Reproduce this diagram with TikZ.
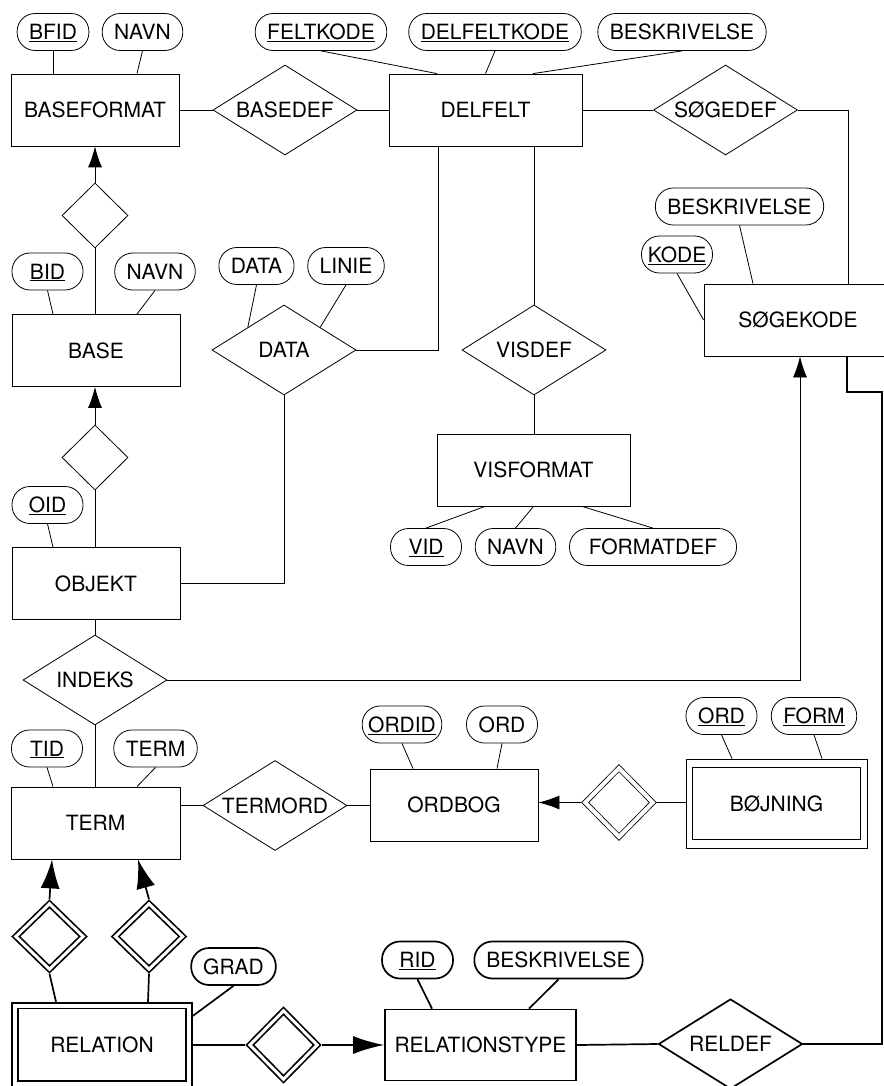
\documentclass[tikz,border=0pt]{standalone}
\usepackage{fontspec}
\setmainfont{TeX Gyre Heros}
\usepackage{tikz}
\usetikzlibrary{shapes.geometric,arrows.meta}

\begin{document}
\begin{tikzpicture}[x=1pt, y=-1pt, line width=0.8pt,
        every node/.style={font=\fontsize{21pt}{25pt}\selectfont, text height=15pt, text depth=0pt},
        entity/.style={draw, rectangle, minimum width=168pt, minimum height=72pt, inner sep=0pt},
        attr/.style={draw, rectangle, rounded corners=18pt, minimum width=71pt, minimum height=37pt, inner xsep=12pt, inner ysep=0pt},
        rel/.style={draw, diamond, aspect=1.6, minimum width=144pt, minimum height=90pt, inner sep=0pt},
        isa/.style={draw, diamond, minimum width=66pt, minimum height=65pt, inner sep=0pt},
        wrel/.style={draw, diamond, double, double distance=4pt, outer sep=2.8pt, minimum width=70pt, minimum height=71pt, inner sep=0pt},
        bold/.style={line width=1.7pt},
        tip/.style={-{Latex[length=21pt,width=14pt]}},
        bigtip/.style={-{Latex[length=29pt,width=19pt]}}]
        \useasboundingbox (0,0) rectangle (883,1086);

        % entiteter
        \node[entity] (BF) at (95,110) {BASEFORMAT};
        \node[entity, minimum width=193pt] (DF) at (485.5,110) {DELFELT};
        \node[entity] (B) at (96,350.5) {BASE};
        \node[entity] (O) at (96,583.5) {OBJEKT};
        \node[entity, minimum width=193pt] (VF) at (533.5,470) {VISFORMAT};
        \node[entity, minimum width=188pt] (SK) at (798,320) {SØGEKODE};
        \node[entity, minimum width=169pt] (T) at (95.5,823) {TERM};
        \node[entity] (OB) at (454,805) {ORDBOG};
        \node[entity, minimum width=181pt, minimum height=89pt] (BJ) at (776.5,803.5) {};
        \node[entity] (BJin) at (BJ) {BØJNING};

        % relationer
        \node[rel] (BD) at (285,110) {BASEDEF};
        \node[rel] (SD) at (725.5,110) {SØGEDEF};
        \node[rel] (D) at (284,350) {DATA};
        \node[rel] (VD) at (534,350) {VISDEF};
        \node[rel] (I) at (95,680) {INDEKS};
        \node[rel] (TO) at (275,805.5) {TERMORD};
        \node[isa] (U1) at (95,215.5) {};
        \node[isa] (U2) at (95,457.5) {};
        \node[wrel] (BJD) at (619,802.5) {};

        % attributter
        \node[attr] (BFID) at (53,32) {\underline{BFID}};
        \node[attr] (BFNAVN) at (142.5,32) {NAVN};
        \node[attr] (FK) at (321,32) {\underline{FELTKODE}};
        \node[attr] (DFK) at (495,32) {\underline{DELFELTKODE}};
        \node[attr] (DFB) at (682,32) {BESKRIVELSE};
        \node[attr] (BID) at (47.5,271.5) {\underline{BID}};
        \node[attr] (BNAVN) at (155,271.5) {NAVN};
        \node[attr] (DDATA) at (256.5,266) {DATA};
        \node[attr] (DLINIE) at (346,266) {LINIE};
        \node[attr] (OID) at (47.5,505) {\underline{OID}};
        \node[attr] (VID) at (426,547) {\underline{VID}};
        \node[attr] (VNAVN) at (515.5,547) {NAVN};
        \node[attr, minimum width=167pt] (VFD) at (653,547) {FORMATDEF};
        \node[attr] (SKB) at (739.5,206.5) {BESKRIVELSE};
        \node[attr, inner xsep=6pt] (SKK) at (677,254.5) {\underline{KODE}};
        \node[attr] (TID) at (47,748.5) {\underline{TID}};
        \node[attr] (TTERM) at (155.5,748.5) {TERM};
        \node[attr, inner xsep=6pt] (ORDID) at (402,724.5) {\underline{ORDID}};
        \node[attr] (OBORD) at (502,724.5) {ORD};
        \node[attr] (BJORD) at (721.5,716) {\underline{ORD}};
        \node[attr] (BJFORM) at (814,716) {\underline{FORM}};

        \path (BFID.south) edge (BFID.south |- BF.north)
              (BFNAVN.south) edge ([xshift=42pt]BF.north)
              (FK.south) edge ([xshift=-48.5pt]DF.north)
              (DFK.south) edge (DF.north)
              (DFB.south) edge ([xshift=47.5pt]DF.north)
              (BID.south) edge ([xshift=-43pt]B.north)
              (BNAVN.south) edge ([xshift=41pt]B.north)
              (DDATA.south) edge (D.north west)
              (DLINIE.south) edge (D.north east)
              (OID.south) edge ([xshift=-43pt]O.north)
              (VID.north) edge ([xshift=-48.5pt]VF.south)
              (VNAVN.north) edge (VF.south)
              (VFD.north) edge ([xshift=48.5pt]VF.south)
              (SKB.south) edge ([xshift=-45pt]SK.north)
              (SKK.south) edge (SK.west)
              (TID.south) edge ([xshift=-42.5pt]T.north)
              (TTERM.south) edge ([xshift=41.5pt]T.north)
              (ORDID.south) edge ([xshift=-41pt]OB.north)
              (OBORD.south) edge ([xshift=43pt]OB.north)
              (BJORD.south) edge ([xshift=-44.5pt]BJ.north)
              (BJFORM.south) edge ([xshift=45.5pt]BJ.north);

        \path (BF.east) edge (BD.west)
              (BD.east) edge (DF.west)
              (DF.east) edge (SD.west)
              (U1.south) edge (U1.south |- B.north)
              (U2.south) edge (U2.south |- O.north)
              (I.north) edge (I.north |- O.south)
              (I.south) edge (I.south |- T.north)
              (VD.north) edge (VD.north |- DF.south)
              (VD.south) edge (VD.south |- VF.north)
              (T.east |- TO.west) edge (TO.west)
              (TO.east) edge (TO.east -| OB.west)
              (BJD.east) edge (BJD.east -| BJ.west);
        \path[tip] (U1.north) edge (U1.north |- BF.south)
              (U2.north) edge (U2.north |- B.south)
              (BJD.west) edge (BJD.west -| OB.east);
        \draw (SD.east) -| ([xshift=50pt]SK.north);
        \draw (D.east) -| ([xshift=-47.5pt]DF.south);
        \draw (D.south) |- (O.east);
        \draw[tip] (I.east) -| ([xshift=2pt]SK.south);

        % relationstyper
        \begin{scope}[bold]
                \node[entity, double, double distance=4pt, outer sep=3.7pt, minimum width=174pt, minimum height=78pt] (R) at (102,1044.5) {RELATION};
                \node[entity, minimum width=191pt, minimum height=71pt] (RT) at (480.5,1045) {RELATIONSTYPE};
                \node[rel] (RD) at (730.5,1044) {RELDEF};
                \node[wrel, double distance=3pt, outer sep=3.2pt, minimum height=68pt] (TD1) at (49.5,936.5) {};
                \node[wrel, double distance=3pt, outer sep=3.2pt, minimum height=68pt] (TD2) at (149,936.5) {};
                \node[wrel, double distance=3pt, outer sep=3.2pt] (RTD) at (283.5,1045) {};
                \node[attr] (GRAD) at (233.5,966.5) {GRAD};
                \node[attr] (RID) at (417.5,960) {\underline{RID}};
                \node[attr] (RTB) at (558.5,960) {BESKRIVELSE};
                \coordinate (RB) at (882,392);

                \path (GRAD.south) edge ([yshift=28.5pt]R.east)
                      (RID.south) edge ([xshift=-48.5pt]RT.north)
                      (RTB.south) edge ([xshift=48.5pt]RT.north)
                      (TD1.south) edge ([xshift=-46pt]R.north)
                      (TD2.south) edge ([xshift=46pt]R.north)
                      (R.east |- RTD.west) edge (RTD.west)
                      (RT.east) edge (RD.west);
                \path[bigtip] (TD1.north) edge ([xshift=-43.5pt]T.south)
                      (TD2.north) edge ([xshift=42.5pt]T.south);
                \draw[-{Latex[length=31pt,width=18pt]}] (RTD.east) -- (RT.west);
                \draw (RD.east) -| (RB) -| ([xshift=49pt]SK.south);
        \end{scope}
\end{tikzpicture}
\end{document}
